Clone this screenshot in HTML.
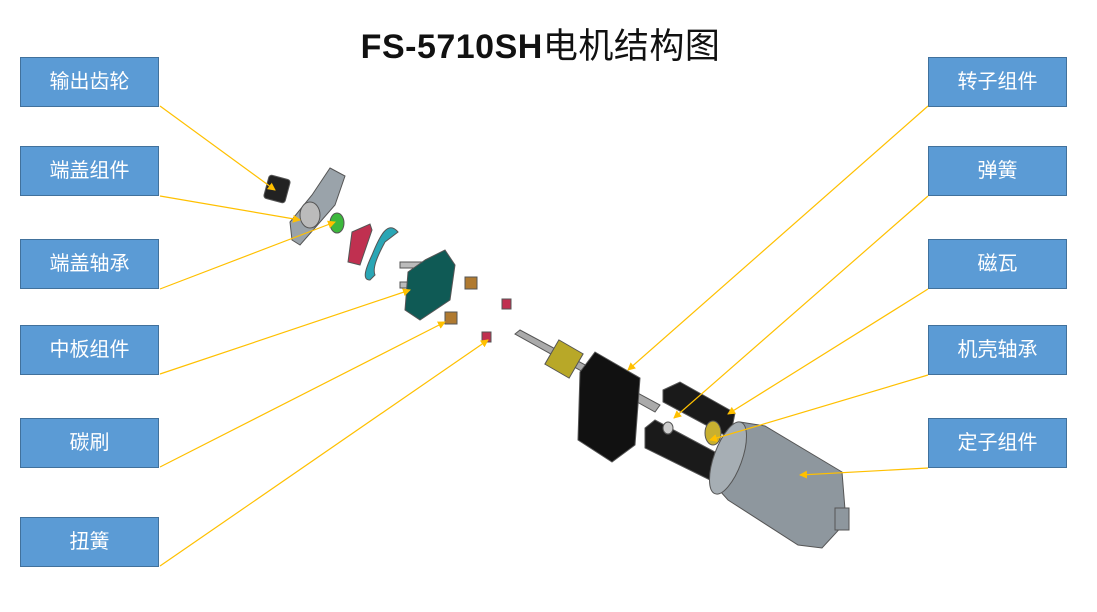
<!DOCTYPE html>
<html><head><meta charset="utf-8"><style>
body{margin:0;width:1097px;height:612px;background:#fff;position:relative;overflow:hidden;font-family:"Liberation Sans","Noto Sans CJK SC",sans-serif}
.t{position:absolute;left:0;width:1097px;top:18px;text-align:center;font-size:34px;font-weight:bold;color:#111;letter-spacing:0.5px}
.b{position:absolute;width:137px;height:48px;background:#5b9bd5;border:1px solid #41719c;color:#fff;font-size:20px;line-height:48px;text-align:center}
</style></head><body>
<div class="t" style="left:-8px">FS-5710SH<span style="font-weight:normal;font-size:35px">电机结构图</span></div>
<div class="b" style="left:20px;top:57px">输出齿轮</div>
<div class="b" style="left:20px;top:146px">端盖组件</div>
<div class="b" style="left:20px;top:239px">端盖轴承</div>
<div class="b" style="left:20px;top:325px">中板组件</div>
<div class="b" style="left:20px;top:418px">碳刷</div>
<div class="b" style="left:20px;top:517px">扭簧</div>
<div class="b" style="left:928px;top:57px">转子组件</div>
<div class="b" style="left:928px;top:146px">弹簧</div>
<div class="b" style="left:928px;top:239px">磁瓦</div>
<div class="b" style="left:928px;top:325px">机壳轴承</div>
<div class="b" style="left:928px;top:418px">定子组件</div>
<svg width="1097" height="612" style="position:absolute;left:0;top:0">
<defs><marker id="a" markerWidth="8" markerHeight="8" refX="7" refY="4" orient="auto" markerUnits="userSpaceOnUse"><path d="M0 0 L8 4 L0 8 Z" fill="#ffc000"/></marker></defs>
<g fill="#9aa3aa" stroke="#555" stroke-width="1">
<rect x="266" y="177" width="22" height="24" rx="3" fill="#222" transform="rotate(15 277 189)"/>
<path d="M330 168 L345 176 L335 205 L300 245 L292 240 L290 222 L312 195 Z"/>
<ellipse cx="310" cy="215" rx="10" ry="13" fill="#bbb"/>
<ellipse cx="337" cy="223" rx="7" ry="10" fill="#3cb83c"/>
<path d="M352 232 L370 224 L372 230 L360 265 L348 262 Z" fill="#c03050"/>
<path d="M398 232 C388 220 380 235 372 255 C365 270 362 280 370 280 L375 275 C372 268 378 255 385 242 Z" fill="#2aa6b5"/>
<rect x="400" y="262" width="22" height="6" fill="#bbb"/>
<rect x="400" y="282" width="22" height="6" fill="#bbb"/>
<path d="M425 260 L445 250 L455 265 L450 300 L420 320 L405 310 L408 272 Z" fill="#0f5a55"/>
<rect x="465" y="277" width="12" height="12" fill="#b07a30"/>
<rect x="445" y="312" width="12" height="12" fill="#b07a30"/>
<rect x="502" y="299" width="9" height="10" fill="#c03050"/>
<rect x="482" y="332" width="9" height="10" fill="#c03050"/>
<path d="M515 334 L520 330 L660 405 L655 412 Z" fill="#aaa"/>
<rect x="550" y="345" width="28" height="28" fill="#b8a828" transform="rotate(30 564 359)"/>
<path d="M595 352 L640 378 L635 445 L612 462 L578 440 L580 372 Z" fill="#111"/>
<path d="M663 390 L680 382 L735 413 L730 438 L663 402 Z" fill="#1a1a1a"/>
<path d="M645 428 L655 420 L715 452 L710 480 L645 448 Z" fill="#1a1a1a"/>
<ellipse cx="668" cy="428" rx="5" ry="6" fill="#ccc"/>
<ellipse cx="713" cy="433" rx="8" ry="12" fill="#c8b030"/>
<path d="M740 422 L765 426 L842 472 L846 522 L822 548 L798 545 L728 500 L712 482 Z" fill="#8e979e"/>
<ellipse cx="728" cy="458" rx="14" ry="38" fill="#a6aeb4" transform="rotate(20 728 458)"/>
<rect x="835" y="508" width="14" height="22" fill="#8e979e"/>
</g>
<g stroke="#ffc000" stroke-width="1.2" fill="none" marker-end="url(#a)">
<line x1="160" y1="106" x2="275" y2="190"/>
<line x1="160" y1="196" x2="300" y2="220"/>
<line x1="160" y1="289" x2="335" y2="222"/>
<line x1="160" y1="374" x2="410" y2="290"/>
<line x1="160" y1="467" x2="445" y2="322"/>
<line x1="160" y1="566" x2="488" y2="340"/>
<line x1="928" y1="106" x2="628" y2="370"/>
<line x1="928" y1="196" x2="674" y2="418"/>
<line x1="928" y1="289" x2="728" y2="414"/>
<line x1="928" y1="375" x2="710" y2="440"/>
<line x1="928" y1="468" x2="800" y2="475"/>
</g>
</svg>
</body></html>
